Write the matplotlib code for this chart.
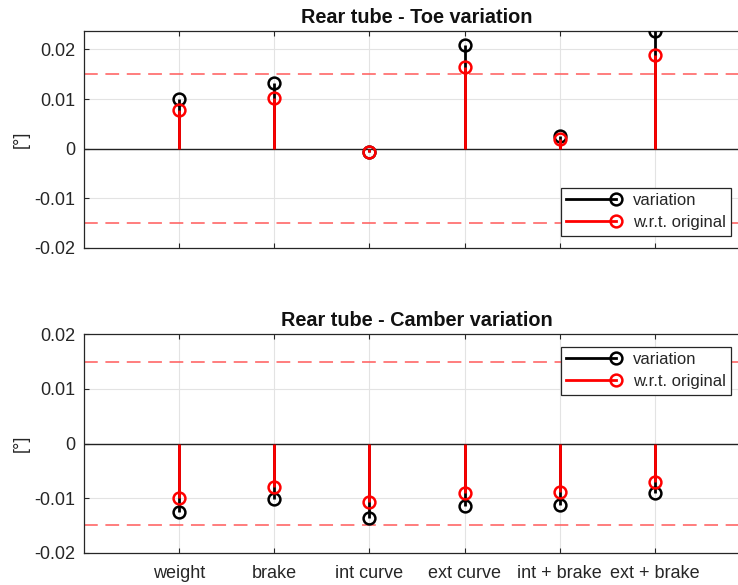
import numpy as np
import matplotlib
matplotlib.use("Agg")
import matplotlib.pyplot as plt
from matplotlib.lines import Line2D
from matplotlib.legend_handler import HandlerLine2D

plt.rcParams['font.family'] = ['Liberation Sans', 'DejaVu Sans']
plt.rcParams['axes.unicode_minus'] = False

categories = ["weight", "brake", "int curve", "ext curve", "int + brake", "ext + brake"]
toe_variation = [0.0101, 0.0132, -0.0006, 0.0208, 0.0026, 0.0237]
toe_wrt_original = [0.0078, 0.0103, -0.0007, 0.0165, 0.0020, 0.0189]
camber_variation = [-0.0125, -0.0102, -0.0136, -0.0114, -0.0112, -0.0090]
camber_wrt_original = [-0.0099, -0.0080, -0.0107, -0.0090, -0.0089, -0.0071]
limit = 0.015
yticks = [-0.02, -0.01, 0, 0.01, 0.02]
ytick_labels = ["-0.02", "-0.01", "0", "0.01", "0.02"]

W, H = 738, 585
fig = plt.figure(figsize=(W / 100, H / 100), dpi=100)

AX_COL = '#262626'


class StemHandler(HandlerLine2D):
    def create_artists(self, *args, **kwargs):
        artists = super().create_artists(*args, **kwargs)
        for a in artists:
            n = len(a.get_xdata())
            a.set_markevery([n - 1])
        return artists


def draw(ax, var, wrt, title, ylim, legend_top_px, show_xlabels):
    x = np.arange(1, len(categories) + 1)
    # black stems
    ax.vlines(x, 0, var, colors='black', lw=2, zorder=3)
    ax.plot(x, var, 'o', mfc='none', mec='black', ms=8.5, mew=1.8, zorder=4)
    # red stems
    ax.vlines(x, 0, wrt, colors='red', lw=2, zorder=5)
    ax.plot(x, wrt, 'o', mfc='none', mec='red', ms=8.5, mew=1.8, zorder=6)
    ax.axhline(0, color='#222222', lw=1, zorder=2)
    for v in (limit, -limit):
        ax.axhline(v, color='#ff5a5a', lw=1.1, ls=(0, (9, 5)), zorder=2)
    ax.set_xlim(0, 7)
    ax.set_ylim(*ylim)
    ax.set_xticks(x)
    if show_xlabels:
        ax.set_xticklabels(categories)
    else:
        ax.set_xticklabels([])
    ax.set_yticks(yticks)
    ax.set_yticklabels(ytick_labels)
    ax.grid(True, color='#e3e3e3', lw=0.8, zorder=0)
    ax.set_axisbelow(True)
    ax.tick_params(direction='in', length=3.5, width=0.8, colors=AX_COL,
                   labelsize=13, labelcolor='#262626', top=True, right=True, pad=6)
    ax.tick_params(axis='x', pad=9)
    for s in ax.spines.values():
        s.set_color(AX_COL)
        s.set_linewidth(0.9)
    ax.set_title(title, fontsize=14.3, fontweight='bold', pad=5.8, color='#111111')
    ax.set_ylabel("[°]", fontsize=13, color='#262626', labelpad=3.5)

    h1 = Line2D([], [], color='black', lw=2, marker='o', mfc='none', mec='black', ms=8.5, mew=1.8)
    h2 = Line2D([], [], color='red', lw=2, marker='o', mfc='none', mec='red', ms=8.5, mew=1.8)
    leg = ax.legend([h1, h2], ["variation", "w.r.t. original"],
                    handler_map={Line2D: StemHandler()},
                    loc='upper left', numpoints=1,
                    bbox_to_anchor=(560.7 / W, 1 - legend_top_px / H),
                    bbox_transform=fig.transFigure,
                    borderaxespad=0, fontsize=12, handlelength=3.0,
                    handletextpad=1.0, borderpad=0.33, labelspacing=0.42,
                    fancybox=False, framealpha=1, edgecolor=AX_COL)
    leg.get_frame().set_linewidth(0.9)
    for t in leg.get_texts():
        t.set_color('#262626')


ax1 = fig.add_axes([84 / W, (H - 248) / H, 666 / W, 217 / H])
draw(ax1, toe_variation, toe_wrt_original, "Rear tube - Toe variation",
     (-0.02, 0.0237), 187.7, False)

ax2 = fig.add_axes([84 / W, (H - 552.7) / H, 666 / W, 218.4 / H])
draw(ax2, camber_variation, camber_wrt_original, "Rear tube - Camber variation",
     (-0.02, 0.02), 346.7, True)

fig.savefig("out.png", dpi=100)
